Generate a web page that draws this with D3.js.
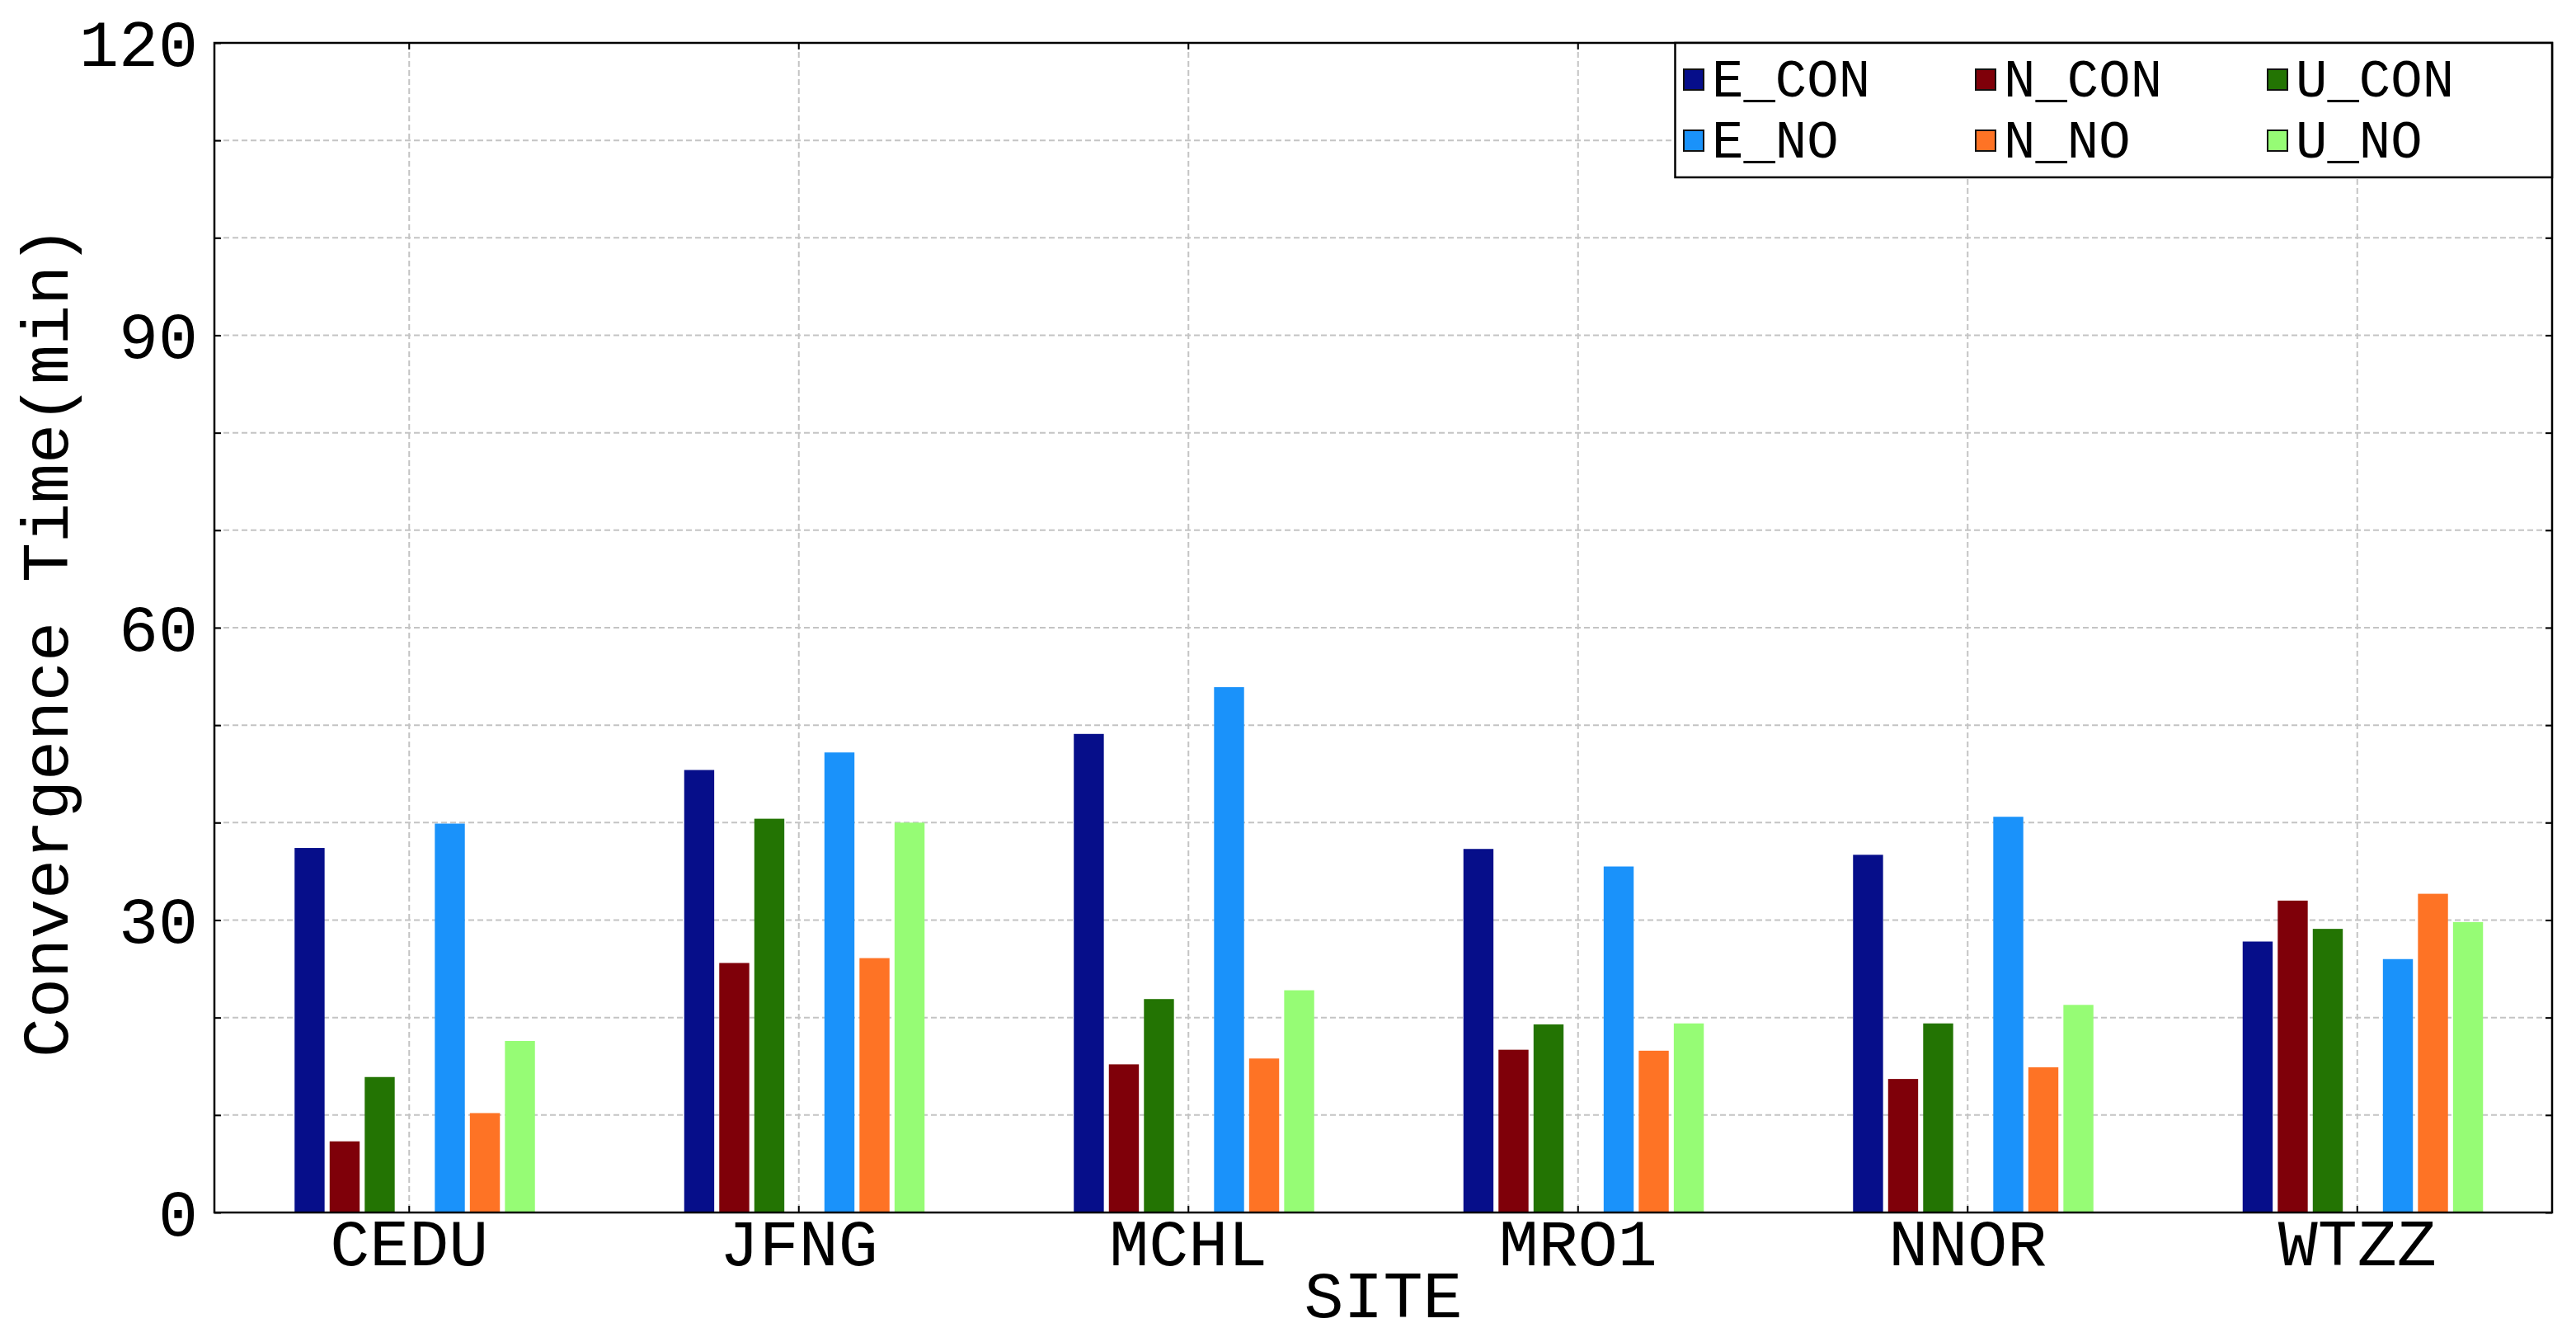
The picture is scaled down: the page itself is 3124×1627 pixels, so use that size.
<!DOCTYPE html>
<html>
<head>
<meta charset="utf-8">
<script src="https://cdn.jsdelivr.net/npm/d3@7"></script>
<style>
  html, body { margin: 0; padding: 0; background: #ffffff; }
  svg { display: block; }
</style>
</head>
<body>
<script>
// ---------- data ----------
const sites = ["CEDU", "JFNG", "MCHL", "MRO1", "NNOR", "WTZZ"];
const seriesNames = ["E_CON", "N_CON", "U_CON", "E_NO", "N_NO", "U_NO"];
const E_CON = [37.4, 45.4, 49.1, 37.3, 36.7, 27.8];
const N_CON = [7.3, 25.6, 15.2, 16.7, 13.7, 32.0];
const U_CON = [13.9, 40.4, 21.9, 19.3, 19.4, 29.1];
const E_NO  = [39.9, 47.2, 53.9, 35.5, 40.6, 26.0];
const N_NO  = [10.2, 26.1, 15.8, 16.6, 14.9, 32.7];
const U_NO  = [17.6, 40.0, 22.8, 19.4, 21.3, 29.8];
const seriesColors = ["#060e8a", "#7f0009", "#237403", "#1a92fa", "#fe7325", "#96fc75"];
const yTickLabels = [0, 30, 60, 90, 120];
const yMinorTicks = [0, 10, 20, 30, 40, 50, 60, 70, 80, 90, 100, 110, 120];
const xTitle = "SITE";
const yTitle = "Convergence Time(min)";

const seriesValues = [E_CON, N_CON, U_CON, E_NO, N_NO, U_NO];
const slots = ["E_CON", "N_CON", "U_CON", "_gap", "E_NO", "N_NO", "U_NO"];

// ---------- layout ----------
const W = 3124, H = 1627;
const L = 260, R = 3095, T = 52, B = 1470;
const FONT = "'Courier New', 'Liberation Mono', 'DejaVu Sans Mono', monospace";

const svg = d3.select("body").append("svg")
  .attr("width", W).attr("height", H)
  .style("background", "#ffffff");

const x0 = d3.scaleBand().domain(sites).range([L, R]).padding(0);
const bw = x0.bandwidth();
const x1 = d3.scaleBand().domain(slots)
  .range([bw / 2 - 139, bw / 2 + 152.5])
  .paddingInner(0.144).paddingOuter(0);
const y = d3.scaleLinear().domain([0, 120]).range([B, T]);

// ---------- grid ----------
const grid = svg.append("g");
grid.selectAll("line.h").data(yMinorTicks.filter(v => v > 0 && v < 120)).join("line")
  .attr("x1", L).attr("x2", R)
  .attr("y1", d => y(d)).attr("y2", d => y(d))
  .attr("stroke", "#c4c4c4").attr("stroke-width", 2).attr("stroke-dasharray", "7,4");
grid.selectAll("line.v").data(sites).join("line")
  .attr("x1", d => x0(d) + bw / 2).attr("x2", d => x0(d) + bw / 2)
  .attr("y1", T).attr("y2", B)
  .attr("stroke", "#c4c4c4").attr("stroke-width", 2).attr("stroke-dasharray", "7,4");

// ---------- bars ----------
const barData = [];
sites.forEach((s, i) => {
  seriesNames.forEach((n, k) => {
    barData.push({ site: s, series: n, value: seriesValues[k][i], color: seriesColors[k] });
  });
});
svg.append("g").selectAll("rect").data(barData).join("rect")
  .attr("x", d => x0(d.site) + x1(d.series))
  .attr("width", x1.bandwidth())
  .attr("y", d => y(d.value))
  .attr("height", d => y(0) - y(d.value))
  .attr("fill", d => d.color);

// ---------- axes ----------
const axLeft = svg.append("g").attr("transform", `translate(${L},0)`)
  .call(d3.axisLeft(y).tickValues(yMinorTicks).tickSize(-8).tickPadding(20)
    .tickFormat(d => yTickLabels.includes(d) ? d : ""));
axLeft.select(".domain").remove();
axLeft.selectAll("line").attr("stroke", "#000").attr("stroke-width", 2);
axLeft.selectAll("text").attr("font-family", FONT).attr("font-size", 80)
  .attr("fill", "#000").attr("dy", "0.34em");

const axRight = svg.append("g").attr("transform", `translate(${R},0)`)
  .call(d3.axisRight(y).tickValues(yMinorTicks).tickSize(-8).tickFormat(""));
axRight.select(".domain").remove();
axRight.selectAll("line").attr("stroke", "#000").attr("stroke-width", 2);

const axBottom = svg.append("g").attr("transform", `translate(0,${B})`)
  .call(d3.axisBottom(x0).tickSize(-8).tickPadding(0));
axBottom.select(".domain").remove();
axBottom.selectAll("line").attr("stroke", "#000").attr("stroke-width", 2);
axBottom.selectAll("text").attr("font-family", FONT).attr("font-size", 80)
  .attr("fill", "#000").attr("y", 64).attr("dy", 0);

const axTop = svg.append("g").attr("transform", `translate(0,${T})`)
  .call(d3.axisTop(x0).tickSize(-8).tickFormat(""));
axTop.select(".domain").remove();
axTop.selectAll("line").attr("stroke", "#000").attr("stroke-width", 2);

// frame
svg.append("rect").attr("x", L).attr("y", T).attr("width", R - L).attr("height", B - T)
  .attr("fill", "none").attr("stroke", "#000").attr("stroke-width", 2.5);

// ---------- titles ----------
svg.append("text").attr("x", (L + R) / 2).attr("y", 1597)
  .attr("text-anchor", "middle").attr("font-family", FONT).attr("font-size", 80)
  .attr("fill", "#000").text(xTitle);
svg.append("text").attr("transform", `translate(82,778) rotate(-90)`)
  .attr("text-anchor", "middle").attr("font-family", FONT).attr("font-size", 80)
  .attr("fill", "#000").text(yTitle);

// ---------- legend ----------
const lg = svg.append("g");
lg.append("rect").attr("x", 2031.5).attr("y", T).attr("width", R - 2031.5).attr("height", 163)
  .attr("fill", "#ffffff").attr("stroke", "#000").attr("stroke-width", 2.5);
const items = lg.selectAll("g.item").data(seriesNames).join("g")
  .attr("transform", (d, i) => `translate(${2042 + (i % 3) * 354},${Math.floor(i / 3) * 74})`);
items.append("rect").attr("x", 0).attr("y", 84).attr("width", 24).attr("height", 25)
  .attr("fill", (d, i) => seriesColors[i]).attr("stroke", "#111").attr("stroke-width", 2);
items.append("text").attr("x", 34).attr("y", 117)
  .attr("font-family", FONT).attr("font-size", 64).attr("fill", "#000")
  .text(d => d);
</script>
</body>
</html>
